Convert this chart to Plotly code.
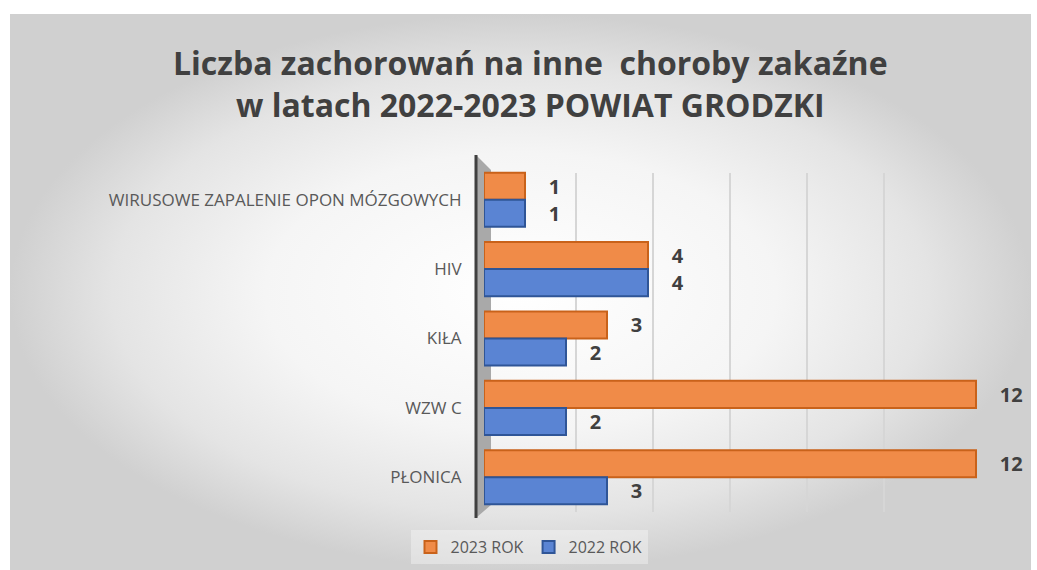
import plotly.graph_objects as go

W, H = 1037, 570

categories = ["WIRUSOWE ZAPALENIE OPON MÓZGOWYCH", "HIV", "KIŁA", "WZW C", "PŁONICA"]
values_2023 = [1, 4, 3, 12, 12]
values_2022 = [1, 4, 2, 2, 3]
series_names = ["2023 ROK", "2022 ROK"]
title_lines = ["Liczba zachorowań na inne  choroby zakaźne", "w latach 2022-2023 POWIAT GRODZKI"]

ORANGE, ORANGE_EDGE = "#F08B48", "#C9621A"
BLUE, BLUE_EDGE = "#5A84D3", "#2F5597"
TXT = "#404040"
LBL = "#595959"
FONT = "Open Sans, sans-serif"


def xd(a, b):
    return [a / W, b / W]


def yd(top, bottom):
    return [1 - bottom / H, 1 - top / H]


fig = go.Figure()

# background gradient panel (subplot xy, pixel units)
fig.add_trace(go.Scatter(
    x=[10, 1031, 1031, 10, 10], y=[0, 0, 556, 556, 0],
    mode="none", fill="toself",
    fillgradient=dict(type="radial",
                      colorscale=[[0, "#ffffff"], [0.5, "#f5f5f5"], [0.8, "#e4e4e4"], [1, "#d0d0d0"]]),
    showlegend=False, hoverinfo="skip", xaxis="x", yaxis="y"))

# side wall of the 3D chart (behind the bars)
fig.add_trace(go.Scatter(
    x=[477, 491, 491, 477, 477], y=[H - 156, H - 170, H - 505, H - 517, H - 156],
    mode="none", fill="toself", fillcolor="#a9a9a9",
    showlegend=False, hoverinfo="skip", xaxis="x", yaxis="y"))

# back-wall gridlines (subplot x2y2)
fig.add_trace(go.Scatter(x=[0, 12], y=[0, 1], mode="none", showlegend=False,
                         hoverinfo="skip", xaxis="x2", yaxis="y2"))

# bars (subplot x3y3)
fig.add_trace(go.Bar(
    y=categories, x=values_2023, name=series_names[0], orientation="h",
    marker=dict(color=ORANGE, line=dict(color=ORANGE_EDGE, width=2)),
    text=values_2023, texttemplate="    %{x}", textposition="outside",
    textfont=dict(family=FONT, size=20, color=TXT, weight="bold"),
    cliponaxis=False, constraintext="none", xaxis="x3", yaxis="y3"))
fig.add_trace(go.Bar(
    y=categories, x=values_2022, name=series_names[1], orientation="h",
    marker=dict(color=BLUE, line=dict(color=BLUE_EDGE, width=2)),
    text=values_2022, texttemplate="    %{x}", textposition="outside",
    textfont=dict(family=FONT, size=20, color=TXT, weight="bold"),
    cliponaxis=False, constraintext="none", xaxis="x3", yaxis="y3"))

shapes = [
    # vertical axis line
    dict(type="line", xref="paper", yref="paper",
         x0=476 / W, x1=476 / W, y0=1 - 155 / H, y1=1 - 518 / H,
         line=dict(color="#404040", width=3), layer="above"),
]

fig.update_layout(
    width=W, height=H,
    margin=dict(l=0, r=0, t=0, b=0),
    paper_bgcolor="#ffffff",
    plot_bgcolor="rgba(0,0,0,0)",
    barmode="group", bargap=0.22, bargroupgap=0,
    font=dict(family=FONT, color=LBL),
    xaxis=dict(domain=[0, 1], range=[0, W], visible=False, fixedrange=True),
    yaxis=dict(domain=[0, 1], range=[0, H], visible=False, fixedrange=True),
    xaxis2=dict(domain=xd(499, 961), range=[0, 12], dtick=2, showgrid=True,
                gridcolor="#d6d6d6", gridwidth=1.5, showticklabels=False,
                zeroline=False, showline=False, anchor="y2"),
    yaxis2=dict(domain=yd(173, 512), range=[0, 1], showgrid=False,
                showticklabels=False, zeroline=False, anchor="x2"),
    xaxis3=dict(domain=xd(484, 1010), range=[0, 526 / 41], showgrid=False,
                showticklabels=False, zeroline=False, showline=False, anchor="y3"),
    yaxis3=dict(domain=yd(165, 512), autorange="reversed", anchor="x3",
                showline=False, ticks="outside", ticklen=18,
                tickcolor="rgba(0,0,0,0)",
                tickfont=dict(family=FONT, size=17, color=LBL)),
    legend=dict(orientation="h", x=529 / W, y=1 - 547 / H, xanchor="center",
                yanchor="middle", bgcolor="rgba(255,255,255,0.35)",
                font=dict(family=FONT, size=16, color=LBL), traceorder="normal"),
    shapes=shapes,
    annotations=[dict(
        text="<b>" + title_lines[0] + "</b><br><b>" + title_lines[1] + "</b>",
        x=530 / W, y=1 - 83 / H, xref="paper", yref="paper",
        xanchor="center", yanchor="middle", showarrow=False, align="center",
        font=dict(family=FONT, size=32, color=TXT))],
)

fig.write_html("out.html", config={"displayModeBar": False},
               post_script="document.body.style.margin='0';document.body.style.overflow='hidden';")
